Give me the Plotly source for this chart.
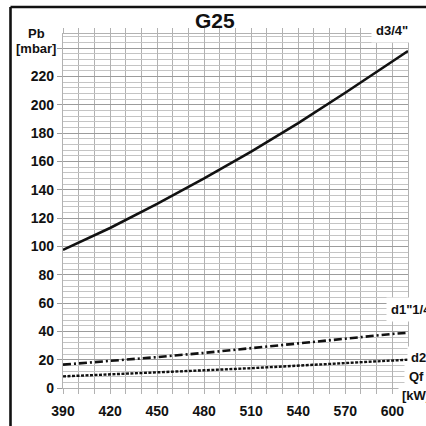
import plotly.graph_objects as go

# Burner gas pressure vs. output, natural gas G25, three valve-train connections
flow_kw = [390, 420, 450, 480, 510, 540, 570, 600, 610]
p_d3_4 = [97.5, 113, 130, 148, 167, 187, 208.5, 231, 238]
p_d1_1_4 = [16.5, 19, 21.8, 24.8, 28, 31.3, 34.8, 38.2, 39]
p_d2 = [8.2, 9.5, 11, 12.5, 14, 15.8, 17.6, 19.4, 20]

x_tick_vals = [390, 420, 450, 480, 510, 540, 570, 600]
y_tick_vals = [0, 20, 40, 60, 80, 100, 120, 140, 160, 180, 200, 220, 240]
y_tick_text = [str(v) for v in y_tick_vals[:-1]] + [""]

W, H = 426, 426
L, R, T, B = 63, 18, 34, 38
FONT = "Liberation Sans"


def px(x):
    return (x - L) / (W - L - R)


def py(y):
    return (H - B - y) / (H - T - B)


fig = go.Figure()

fig.add_trace(go.Scatter(x=flow_kw, y=p_d3_4, mode="lines",
                         line=dict(color="#111111", width=2.6)))
fig.add_trace(go.Scatter(x=flow_kw, y=p_d1_1_4, mode="lines",
                         line=dict(color="#111111", width=2.6, dash="8px,3px,2px,3px")))
fig.add_trace(go.Scatter(x=flow_kw, y=p_d2, mode="lines",
                         line=dict(color="#111111", width=2.4, dash="3px,1.5px")))

GRID_V = "#b2b2b2"
GRID_MAJ = "#9c9c9c"
GRID_MIN = "#c4c4c4"

fig.update_xaxes(
    range=[390, 610], tickmode="array", tickvals=x_tick_vals,
    ticks="outside", ticklen=5, tickwidth=1.3, tickcolor=GRID_V,
    showgrid=True, gridcolor=GRID_V, gridwidth=1.3,
    showline=True, linecolor=GRID_V, linewidth=1.3, mirror="allticks",
    zeroline=False, ticklabelstandoff=5, automargin=False,
    tickfont=dict(family=FONT, size=14, color="#111111", weight="bold"),
    minor=dict(dtick=10, tick0=390, ticks="outside", ticklen=5, tickwidth=1.3,
               tickcolor=GRID_V, showgrid=True, gridcolor=GRID_V, gridwidth=1.3),
)
fig.update_yaxes(
    range=[0, 250], tickmode="array", tickvals=y_tick_vals, ticktext=y_tick_text,
    ticks="outside", ticklen=5, tickwidth=1.3, tickcolor=GRID_MAJ,
    showgrid=True, gridcolor=GRID_MAJ, gridwidth=1.4,
    showline=True, linecolor=GRID_V, linewidth=1.3, mirror=True,
    zeroline=False, automargin=False,
    tickfont=dict(family=FONT, size=14, color="#111111", weight="bold"),
    minor=dict(dtick=4, tick0=0, showgrid=True, gridcolor=GRID_MIN, gridwidth=1.2),
)

# frame along the top and left edges of the sheet
fig.add_shape(type="line", xref="paper", yref="paper",
              x0=px(10.5), y0=py(7), x1=px(430), y1=py(7),
              line=dict(color="#111111", width=2.6))
fig.add_shape(type="line", xref="paper", yref="paper",
              x0=px(10.5), y0=py(7), x1=px(10.5), y1=py(430),
              line=dict(color="#111111", width=2.6))


def label(text, x, y, size=13, anchor="left", bg=None, pad=1):
    fig.add_annotation(text=text, xref="paper", yref="paper", x=px(x), y=py(y),
                       xanchor=anchor, yanchor="middle", showarrow=False,
                       font=dict(family=FONT, size=size, color="#111111", weight="bold"),
                       bgcolor=bg, borderpad=pad)


label("G25", 215, 20, size=21, anchor="center")
label("Pb", 36.5, 33, anchor="center")
label("[mbar]", 36, 48.5, anchor="center")
label('d3/4"', 371, 30, bg="white", pad=4)
label('d1"1/4', 386, 309, bg="white", pad=4)
label("d2", 407, 357, bg="white", pad=3)
label("Qf", 404, 376, bg="white", pad=4)
label("[kW]", 398, 395, bg="white", pad=3)

fig.update_layout(
    width=W, height=H, margin=dict(l=L, r=R, t=T, b=B, autoexpand=False),
    paper_bgcolor="white", plot_bgcolor="white", showlegend=False,
)

fig.write_html("out.html")
